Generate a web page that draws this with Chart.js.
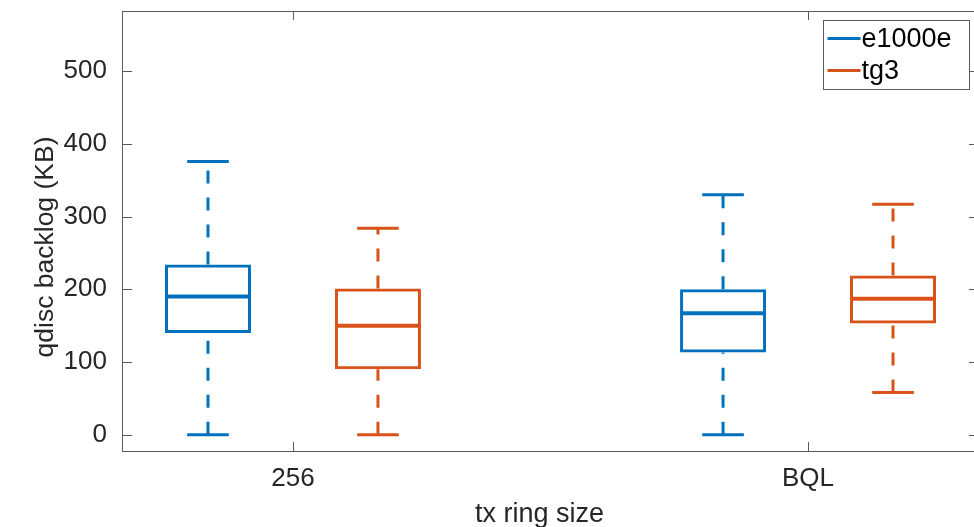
<!DOCTYPE html>
<html>
<head>
<meta charset="utf-8">
<script src="https://cdn.jsdelivr.net/npm/chart.js@4.4.1/dist/chart.umd.min.js"></script>
<style>
  html, body { margin: 0; padding: 0; background: #fff; overflow: hidden; }
  #wrap { width: 990px; height: 527px; }
</style>
</head>
<body>
<div id="wrap"><canvas id="chart" width="990" height="527"></canvas></div>
<script>
// groups on the x axis and where they sit on the linear scale
const groups = ["256", "BQL"];
const groupPos = [1, 2];
const seriesNames = ["e1000e", "tg3"];
const seriesColors = ["#0072BD", "#D95319"];
const seriesOffset = [-0.165, 0.165];

// [lower whisker, q1, median, q3, upper whisker] for each group
const e1000eStats = [
  [0, 140, 190, 234, 376],
  [0, 113, 167, 200, 330],
];
const tg3Stats = [
  [0, 90, 150, 201, 284],
  [58, 153, 187, 219, 317],
];
const yTicks = [0, 100, 200, 300, 400, 500];
const xTitle = "tx ring size";
const yTitle = "qdisc backlog (KB)";

const allStats = [e1000eStats, tg3Stats];
const axisColor = "#262626";
const font = "'Liberation Sans', Arial, Helvetica, sans-serif";

Chart.defaults.font.family = font;
Chart.defaults.color = axisColor;

// whiskers, caps and median lines, placed with the chart's scales
const boxParts = {
  id: "boxParts",
  afterDatasetsDraw(chart) {
    const { ctx, scales: { x, y } } = chart;
    const capHalf = 0.0404;
    ctx.save();
    allStats.forEach((stats, s) => {
      ctx.strokeStyle = seriesColors[s];
      stats.forEach((st, g) => {
        const [lo, q1, med, q3, hi] = st;
        const xv = groupPos[g] + seriesOffset[s];
        const cx = x.getPixelForValue(xv);
        const cl = x.getPixelForValue(xv - capHalf);
        const cr = x.getPixelForValue(xv + capHalf);
        const bar = chart.getDatasetMeta(s).data[g];
        const bl = bar.x - bar.width / 2;
        const br = bar.x + bar.width / 2;

        ctx.lineWidth = 3;
        ctx.lineCap = "butt";
        ctx.setLineDash([13, 14]);
        ctx.beginPath();
        ctx.moveTo(cx, y.getPixelForValue(lo));
        ctx.lineTo(cx, y.getPixelForValue(q1));
        ctx.moveTo(cx, y.getPixelForValue(q3));
        ctx.lineTo(cx, y.getPixelForValue(hi));
        ctx.stroke();

        ctx.setLineDash([]);
        ctx.beginPath();
        ctx.moveTo(cl, y.getPixelForValue(lo));
        ctx.lineTo(cr, y.getPixelForValue(lo));
        ctx.moveTo(cl, y.getPixelForValue(hi));
        ctx.lineTo(cr, y.getPixelForValue(hi));
        ctx.stroke();

        ctx.lineWidth = 4;
        ctx.beginPath();
        ctx.moveTo(bl, y.getPixelForValue(med));
        ctx.lineTo(br, y.getPixelForValue(med));
        ctx.stroke();
      });
    });
    ctx.restore();
  }
};

// MATLAB style box around the axes, inward ticks, axis titles and legend
const axesFrame = {
  id: "axesFrame",
  afterDraw(chart) {
    const { ctx, chartArea: a, scales: { x, y } } = chart;
    const tl = 9;
    ctx.save();
    ctx.strokeStyle = "#5a5a5a";
    ctx.lineWidth = 1;
    ctx.strokeRect(Math.round(a.left) - 0.5, Math.round(a.top) + 0.5,
      Math.round(a.right - a.left), Math.round(a.bottom - a.top));
    ctx.beginPath();
    y.ticks.forEach(t => {
      const py = Math.round(y.getPixelForValue(t.value)) + 0.5;
      ctx.moveTo(a.left, py); ctx.lineTo(a.left + tl, py);
      ctx.moveTo(a.right, py); ctx.lineTo(a.right - tl, py);
    });
    x.ticks.forEach(t => {
      const px = Math.round(x.getPixelForValue(t.value)) + 0.5;
      ctx.moveTo(px, a.bottom); ctx.lineTo(px, a.bottom - tl);
      ctx.moveTo(px, a.top); ctx.lineTo(px, a.top + tl);
    });
    ctx.stroke();

    // axis titles
    ctx.fillStyle = axisColor;
    ctx.textAlign = "center";
    ctx.textBaseline = "alphabetic";
    ctx.font = "27px " + font;
    ctx.fillText(xTitle, (a.left + a.right) / 2 - 11, 522);
    ctx.save();
    ctx.translate(53, (a.top + a.bottom) / 2 + 16);
    ctx.rotate(-Math.PI / 2);
    ctx.font = "26.5px " + font;
    ctx.fillText(yTitle, 0, 0);
    ctx.restore();

    // legend, top right inside the axes
    const lw = 146, lh = 69;
    const lx = Math.round(a.right - 9 - lw) + 0.5;
    const ly = Math.round(a.top + 9) + 0.5;
    ctx.fillStyle = "#fff";
    ctx.fillRect(lx, ly, lw, lh);
    ctx.strokeStyle = "#5a5a5a";
    ctx.lineWidth = 1;
    ctx.strokeRect(lx, ly, lw, lh);
    ctx.font = "27px " + font;
    ctx.textBaseline = "middle";
    ctx.textAlign = "left";
    seriesNames.forEach((name, i) => {
      const ry = ly + 18 + i * 32;
      ctx.strokeStyle = seriesColors[i];
      ctx.lineWidth = 3;
      ctx.beginPath();
      ctx.moveTo(lx + 4, ry);
      ctx.lineTo(lx + 37, ry);
      ctx.stroke();
      ctx.fillStyle = "#000";
      ctx.fillText(name, lx + 38, ry + 1);
    });
    ctx.restore();
  }
};

new Chart(document.getElementById("chart"), {
  type: "bar",
  data: {
    datasets: allStats.map((stats, s) => ({
      label: seriesNames[s],
      data: stats.map((st, g) => ({ x: groupPos[g] + seriesOffset[s], y: [st[1], st[3]] })),
      backgroundColor: "rgba(255,255,255,0)",
      borderColor: seriesColors[s],
      borderWidth: 3,
      borderSkipped: false,
      barThickness: 86,
      grouped: false,
      inflateAmount: 0,
    })),
  },
  options: {
    responsive: false,
    animation: false,
    layout: { padding: { left: 0, right: 12, top: 11, bottom: 0 } },
    plugins: {
      legend: { display: false },
      tooltip: { enabled: false },
    },
    scales: {
      x: {
        type: "linear",
        min: 0.67,
        max: 2.33,
        offset: false,
        grid: { display: false, drawTicks: false, offset: false },
        border: { display: false },
        afterBuildTicks: (s) => { s.ticks = groupPos.map(v => ({ value: v })); },
        afterFit: (s) => { s.height = 76; s.paddingLeft = 0; s.paddingRight = 0; },
        ticks: {
          font: { size: 26 },
          color: axisColor,
          padding: 12,
          maxRotation: 0,
          callback: (v) => groups[groupPos.indexOf(v)],
        },
      },
      y: {
        min: -22.5,
        max: 583,
        grid: { display: false, drawTicks: false },
        border: { display: false },
        afterBuildTicks: (s) => { s.ticks = yTicks.map(v => ({ value: v })); },
        afterFit: (s) => { s.width = 123; s.paddingTop = 0; s.paddingBottom = 0; },
        ticks: {
          font: { size: 26 },
          color: axisColor,
          padding: 16,
        },
      },
    },
  },
  plugins: [boxParts, axesFrame],
});
</script>
</body>
</html>
